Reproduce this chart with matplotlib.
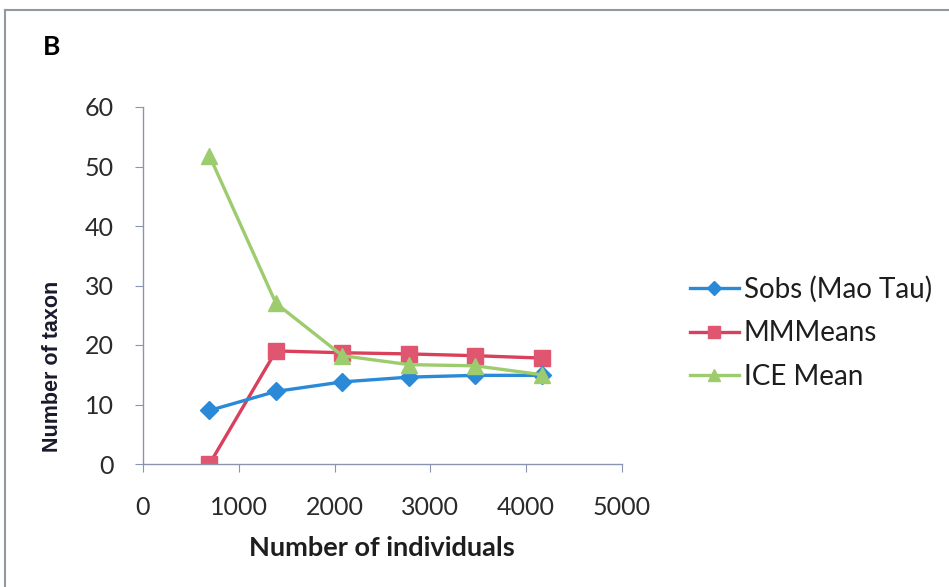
import matplotlib
matplotlib.use("Agg")
import matplotlib.pyplot as plt
from matplotlib.lines import Line2D

x_individuals = [694, 1388, 2082, 2776, 3470, 4164]
sobs = [9.0, 12.2, 13.8, 14.6, 14.9, 14.9]
mmmeans = [0.0, 19.0, 18.7, 18.5, 18.2, 17.8]
ice_mean = [51.8, 27.0, 18.2, 16.7, 16.5, 15.0]
series_names = ["Sobs (Mao Tau)", "MMMeans", "ICE Mean"]
x_ticks = [0, 1000, 2000, 3000, 4000, 5000]
y_ticks = [0, 10, 20, 30, 40, 50, 60]

plt.rcParams['font.family'] = ['Lato', 'DejaVu Sans']

W, H = 949, 587
fig = plt.figure(figsize=(W / 100, H / 100), dpi=100)
ax = fig.add_axes([143 / W, 1 - 464 / H, (622 - 143) / W, (464 - 107) / H])

blue = '#2b8ad8'
red = '#d8405c'
green = '#9dcc6e'

ax.plot(x_individuals, sobs, color=blue, lw=2.4, marker='D', ms=9,
        markerfacecolor=blue, markeredgecolor=blue, label=series_names[0], zorder=3)
ax.plot(x_individuals, mmmeans, color=red, lw=2.4, marker='s', ms=12,
        markerfacecolor='#e05570', markeredgecolor='#e05570', label=series_names[1], zorder=2)
ax.plot(x_individuals, ice_mean, color=green, lw=2.4, marker='^', ms=12,
        markerfacecolor=green, markeredgecolor=green, label=series_names[2], zorder=4)

ax.set_xlim(0, 5000)
ax.set_ylim(0, 60)
ax.set_xticks(x_ticks)
ax.set_yticks(y_ticks)
for s in ['top', 'right']:
    ax.spines[s].set_visible(False)
for s in ['left', 'bottom']:
    ax.spines[s].set_color('#8a94b0')
    ax.spines[s].set_linewidth(1.0)
ax.tick_params(axis='both', direction='out', length=6, width=0.8, color='#8a94b0',
               labelsize=18, labelcolor='#2a2a2a')
ax.tick_params(axis='y', pad=15)
ax.tick_params(axis='x', pad=17)

ax.set_xlabel('Number of individuals', fontsize=19.5, fontweight='bold', va='center',
              color='#1e1e1e')
ax.xaxis.set_label_coords(382 / 479 - 143 / 479, -(548 - 464) / 357)
ax.set_ylabel('Number of taxon', fontsize=15.5, fontweight='bold', va='center',
              color='#1a1a2e', family=['Liberation Sans', 'DejaVu Sans'])
ax.yaxis.set_label_coords(-(143 - 53) / 479, (464 - 366) / 357)

fig.text(43 / W, 1 - 47 / H, 'B', fontsize=19, fontweight='bold', va='center', ha='left')

leg = fig.legend(loc='center left', bbox_to_anchor=(690 / W, 1 - 333 / H), frameon=False,
                 fontsize=20, handlelength=1.75, handletextpad=0.18, labelspacing=0.62,
                 markerscale=0.75, borderaxespad=0, borderpad=0)
for t in leg.get_texts():
    t.set_color('#1e1e1e')

# outer chart border (top and left visible)
fig.add_artist(Line2D([5 / W, 1.0], [1 - 10 / H, 1 - 10 / H], color='#8f9aa3', lw=1.5,
                      transform=fig.transFigure))
fig.add_artist(Line2D([5 / W, 5 / W], [0, 1 - 10 / H], color='#8f9aa3', lw=1.5,
                      transform=fig.transFigure))

fig.savefig('out.png', dpi=100)
